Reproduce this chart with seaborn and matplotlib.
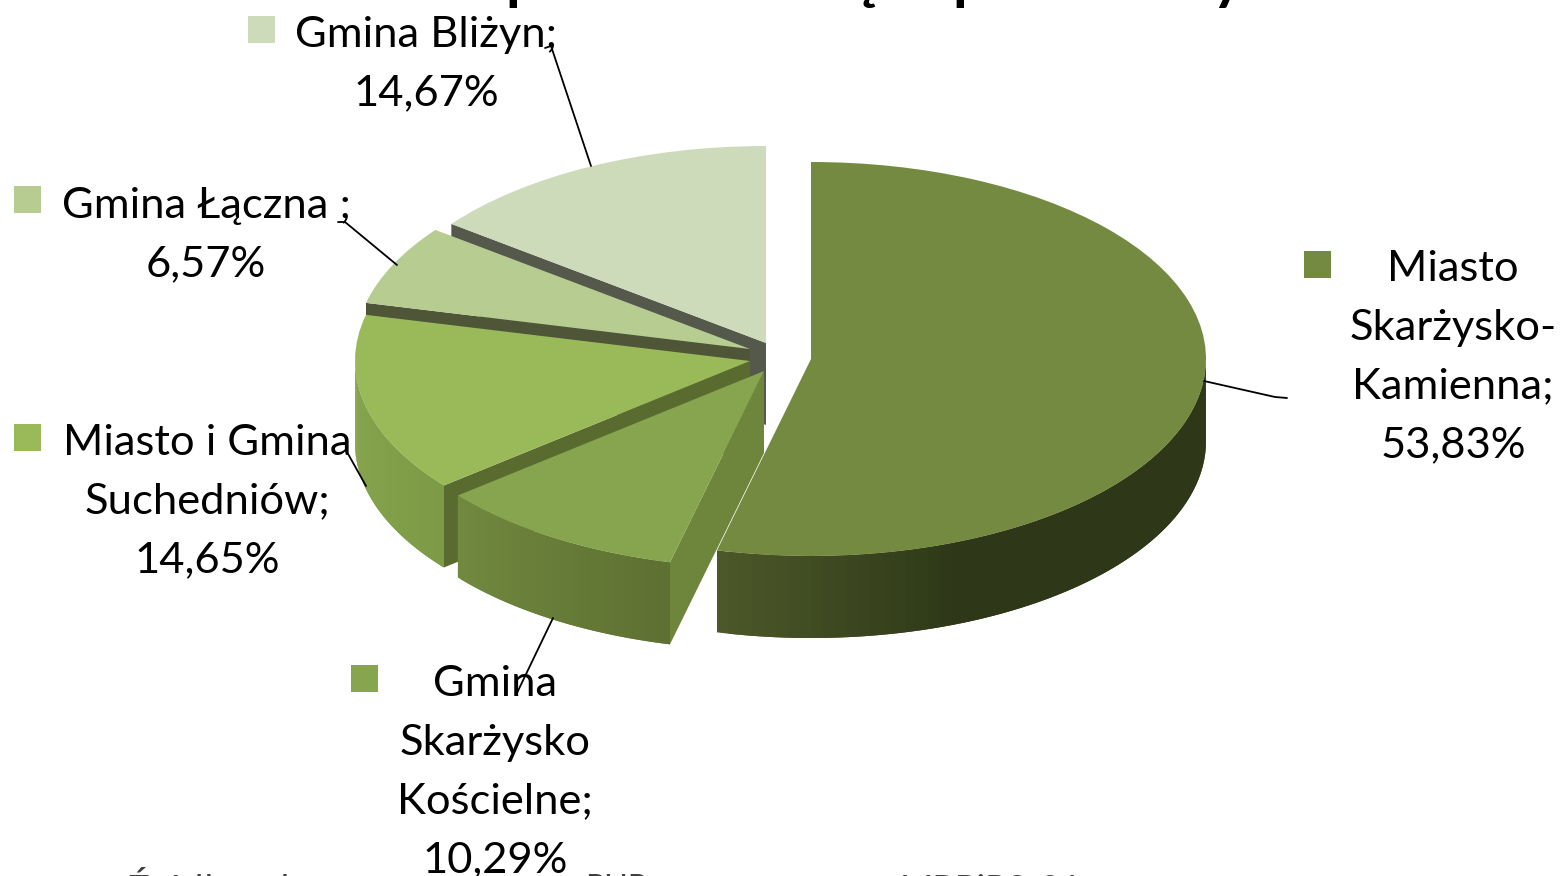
import numpy as np
import matplotlib
matplotlib.use('Agg')
import matplotlib.pyplot as plt
import seaborn as sns

# values, clockwise from 12 o'clock
names = [
    ["Miasto", "Skarżysko-", "Kamienna;"],
    ["Gmina", "Skarżysko", "Kościelne;"],
    ["Miasto i Gmina", "Suchedniów;"],
    ["Gmina Łączna ;"],
    ["Gmina Bliżyn;"],
]
values = [53.83, 10.29, 14.65, 6.57, 14.67]

top_colors = ["#738a40", "#86a54e", "#9aba59", "#b7cc91", "#cedbba"]
cut_colors = ["#738a40", "#6e853c", "#5a6b30", "#4f5638", "#55594c"]
rim_colors = [
    ["#4c5829", "#2e3818", "#2e3818", "#2e3818"],
    ["#71893f", "#5e7032"],
    ["#88a64f", "#7d9a46"],
    ["#a0b47c", "#a0b47c"],
    ["#b6c2a4", "#b6c2a4"],
]

# layout in reference pixels
W, H = 1563, 876
RX, RY, DEPTH = 395, 197, 82
centers = [(811, 359), (764, 371), (750, 361), (750, 349), (766, 343)]
keys = [(1304, 251), (351, 665), (14, 424), (14, 186), (248, 16)]
text_x = [1453, 495, 207, 206, 426]
first_base = [281, 696, 455, 218, 47]
line_step = 58.7
leaders = [
    [(1204, 381), (1275, 397), (1287, 398)],
    [(553, 618), (516, 695)],
    [(347, 452), (366, 486)],
    [(338, 222), (345, 222), (397, 265)],
    [(545, 48), (551, 46), (591, 166)],
]
title_bits = [("p", 505), ("ą", 845), ("p", 952), ("y", 1212)]
source_bits = [("Źródło:", 128, 36), ("d", 268, 36), ("PUP", 585, 32), ("MRPiPS-01", 900, 36)]

sns.set_theme(style="white")
plt.rcParams['font.family'] = ['Lato', 'DejaVu Sans']

YS = RX / RY


def Y(py):
    return (H - py) * YS


fig = plt.figure(figsize=(W / 100, H / 100), dpi=100)
ax = fig.add_axes([0, 0, 1, 1])

wedges, _ = ax.pie(values, startangle=90, counterclock=False, radius=RX,
                   colors=sns.color_palette(top_colors),
                   wedgeprops={'linewidth': 0})
ax.set_aspect('auto')
ax.set_xlim(0, W)
ax.set_ylim(0, H * YS)
ax.axis('off')

# angle from the top, clockwise
edges = np.cumsum([0] + values) / sum(values) * 360

for i, w in enumerate(wedges):
    cx, cy = centers[i]
    z = (5 - i) * 10
    w.set_center((cx, Y(cy)))
    w.set_zorder(z + 5)
    a0, a1 = edges[i], edges[i + 1]

    # cut face on the leading edge, main slice hides its own
    if i > 0:
        t = np.radians(a0)
        ex, ey = cx + RX * np.sin(t), cy - RY * np.cos(t)
        ax.fill([cx, ex, ex, cx],
                [Y(cy), Y(ey), Y(ey + DEPTH), Y(cy + DEPTH)],
                color=cut_colors[i], lw=0, zorder=z + 1)

    # outer rim, only the front half can be seen
    lo, hi = max(a0, 90), min(a1, 270)
    if hi > lo:
        n = 60
        pal = sns.blend_palette(rim_colors[i], n)
        steps = np.linspace(hi, lo, n + 1)
        for k in range(n):
            # overlap the next strip so no seams show
            t = np.radians(np.linspace(steps[k], steps[min(k + 2, n)], 6))
            xs = cx + RX * np.sin(t)
            ys = cy - RY * np.cos(t)
            ax.fill(np.r_[xs, xs[::-1]],
                    np.r_[Y(ys), Y(ys[::-1] + DEPTH)],
                    color=pal[k], lw=0, zorder=z + 2)

FS = 43.5 * 0.72
for i, v in enumerate(values):
    lines = names[i] + [f"{v:.2f}%".replace('.', ',')]
    for j, line in enumerate(lines):
        ax.text(text_x[i], Y(first_base[i] + j * line_step), line, ha='center',
                va='baseline', fontsize=FS, color='black', zorder=100)
    kx, ky = keys[i]
    ax.fill([kx, kx + 27, kx + 27, kx], [Y(ky), Y(ky), Y(ky + 27), Y(ky + 27)],
            color=top_colors[i], lw=0, zorder=90)
    lx, ly = zip(*leaders[i])
    ax.plot(lx, Y(np.array(ly)), color='black', lw=1.3, zorder=95)

# title and source are cut by the picture edge, only these bits show
for s, x in title_bits:
    ax.text(x, Y(-2), s, ha='left', va='baseline', fontsize=60 * 0.72,
            fontweight='bold', color='black')
for s, x, px in source_bits:
    ax.text(x, Y(875 + px * 0.72), s, ha='left', va='baseline', fontsize=px * 0.72,
            color='#404040')

fig.savefig('out.png', dpi=100)
